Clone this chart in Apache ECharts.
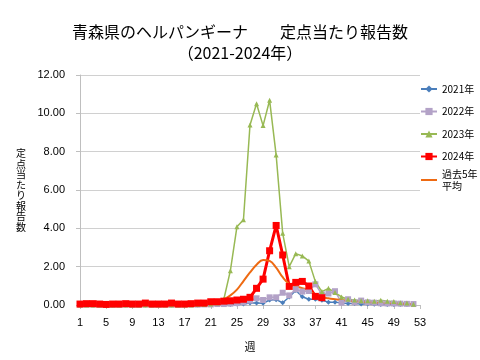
<!DOCTYPE html>
<html><head><meta charset="utf-8">
<script src="https://cdn.jsdelivr.net/npm/echarts@6/dist/echarts.min.js"></script>
<style>html,body{margin:0;padding:0;background:#fff}#c{width:480px;height:360px}</style>
</head><body><div id="c"></div>
<script>
const weeks = Array.from({length:53},(_,i)=>String(i+1));
const y2021 = [0.02,0.02,0.00,0.02,0.00,0.00,0.02,0.00,0.00,0.02,0.00,0.00,0.00,0.02,0.00,0.00,0.00,0.02,0.00,0.02,
               0.02,0.05,0.03,0.03,0.05,0.05,0.10,0.10,0.09,0.26,0.28,0.12,0.42,0.76,0.43,0.30,0.30,0.25,0.15,0.15,
               0.10,0.08,0.08,0.05,0.05,0.04,0.03,0.03,0.02,0.02,0.02,0.02];
const y2022 = [0.03,0.02,0.03,0.02,0.03,0.02,0.02,0.03,0.02,0.02,0.03,0.02,0.02,0.03,0.02,0.02,0.03,0.03,0.02,0.03,
               0.03,0.05,0.05,0.07,0.10,0.14,0.23,0.35,0.26,0.40,0.40,0.64,0.50,0.82,0.70,0.73,1.08,0.55,0.60,0.72,
               0.12,0.30,0.14,0.23,0.14,0.12,0.09,0.08,0.08,0.07,0.06,0.05];
const y2023 = [0.00,0.00,0.00,0.00,0.00,0.00,0.00,0.00,0.00,0.00,0.00,0.00,0.00,0.00,0.00,0.00,0.00,0.00,0.02,0.03,
               0.05,0.10,0.30,1.79,4.08,4.45,9.39,10.50,9.36,10.68,7.82,3.74,2.00,2.68,2.56,2.29,1.22,0.70,0.87,0.65,
               0.42,0.30,0.26,0.22,0.22,0.20,0.25,0.20,0.18,0.12,0.10,0.04];
const y2024 = [0.05,0.07,0.07,0.05,0.03,0.05,0.05,0.07,0.05,0.05,0.10,0.05,0.05,0.05,0.10,0.05,0.05,0.07,0.10,0.10,
               0.17,0.17,0.20,0.22,0.26,0.30,0.40,0.87,1.35,2.83,4.15,2.61,0.97,1.18,1.23,0.99,0.45,0.38];
const avg5 = [0.03,0.03,0.03,0.03,0.03,0.03,0.03,0.03,0.03,0.03,0.03,0.03,0.03,0.03,0.03,0.03,0.03,0.03,0.04,0.05,
              0.08,0.15,0.30,0.50,0.80,1.25,1.70,2.10,2.35,2.30,1.95,1.45,1.10,0.97,0.88,0.75,0.52,0.40,0.35,0.30,
              0.26,0.22,0.19,0.16,0.14,0.12,0.10,0.09,0.08,0.06,0.05,0.04];
const names = ['2021年','2022年','2023年','2024年','過去5年平均'];

const chart = echarts.init(document.getElementById('c'), null, {renderer:'canvas'});
const font = 'Noto Sans CJK JP';
const legendText = {fontFamily:font, fontSize:10, color:'#000'};
chart.setOption({
  animation:false,
  backgroundColor:'#fff',
  title:{
    text:'青森県のヘルパンギーナ　　定点当たり報告数\n（2021-2024年）',
    left:'center', top:16,
    textStyle:{fontFamily:font, fontSize:16, fontWeight:'normal', color:'#000', lineHeight:21}
  },
  legend:[{
    orient:'vertical', left:420, top:84, itemGap:12.5, itemWidth:16, itemHeight:9, padding:0,
    textStyle:legendText,
    data:names.slice(0,4)
  },{
    orient:'vertical', left:420, top:162, itemWidth:16, itemHeight:9, padding:0,
    textStyle:legendText,
    formatter: () => '過去5年\n平均',
    data:[{name:names[4], itemStyle:{opacity:0}, textStyle:{padding:[12,0,0,0], lineHeight:12}}]
  }],
  grid:{left:80, right:60, top:75, bottom:55, containLabel:false},
  xAxis:{
    type:'category', data:weeks, boundaryGap:false,
    name:'週', nameLocation:'middle', nameGap:36,
    nameTextStyle:{fontFamily:font, fontSize:11, color:'#000'},
    axisLine:{lineStyle:{color:'#BFBFBF'}},
    axisTick:{show:true, interval:3, length:4, lineStyle:{color:'#BFBFBF'}},
    axisLabel:{interval:3, fontFamily:'Liberation Sans', fontSize:11, color:'#000', margin:12},
    splitLine:{show:false}
  },
  yAxis:{
    type:'value', min:0, max:12, interval:2,
    name:'定点当たり報告数'.split('').join('\n'), nameLocation:'middle', nameRotate:0, nameGap:54,
    nameTextStyle:{fontFamily:font, fontSize:10, lineHeight:10.5, color:'#000'},
    axisLine:{show:true, lineStyle:{color:'#BFBFBF'}},
    axisTick:{show:true, length:4, lineStyle:{color:'#BFBFBF'}},
    axisLabel:{formatter:v=>v.toFixed(2), fontFamily:'Liberation Sans', fontSize:11, color:'#000', margin:15},
    splitLine:{lineStyle:{color:'#D0D0D0'}}
  },
  series:[
    {name:names[0], type:'line', data:y2021, symbol:'diamond', symbolSize:5, showAllSymbol:true,
     lineStyle:{width:1.5, color:'#4A7EBB'}, itemStyle:{color:'#4A7EBB'}},
    {name:names[1], type:'line', data:y2022, symbol:'rect', symbolSize:6, showAllSymbol:true,
     lineStyle:{width:1.5, color:'#B3A2C7'}, itemStyle:{color:'#B3A2C7'}},
    {name:names[2], type:'line', data:y2023, symbol:'triangle', symbolSize:5, showAllSymbol:true,
     lineStyle:{width:1.5, color:'#98B954'}, itemStyle:{color:'#98B954'}},
    {name:names[3], type:'line', data:y2024, symbol:'rect', symbolSize:7, showAllSymbol:true,
     lineStyle:{width:3, color:'#FF0000'}, itemStyle:{color:'#FF0000'}},
    {name:names[4], type:'line', data:avg5, symbol:'none', smooth:0.4,
     lineStyle:{width:2, color:'#EE6A12'}, itemStyle:{color:'#EE6A12'}}
  ]
});
</script></body></html>
